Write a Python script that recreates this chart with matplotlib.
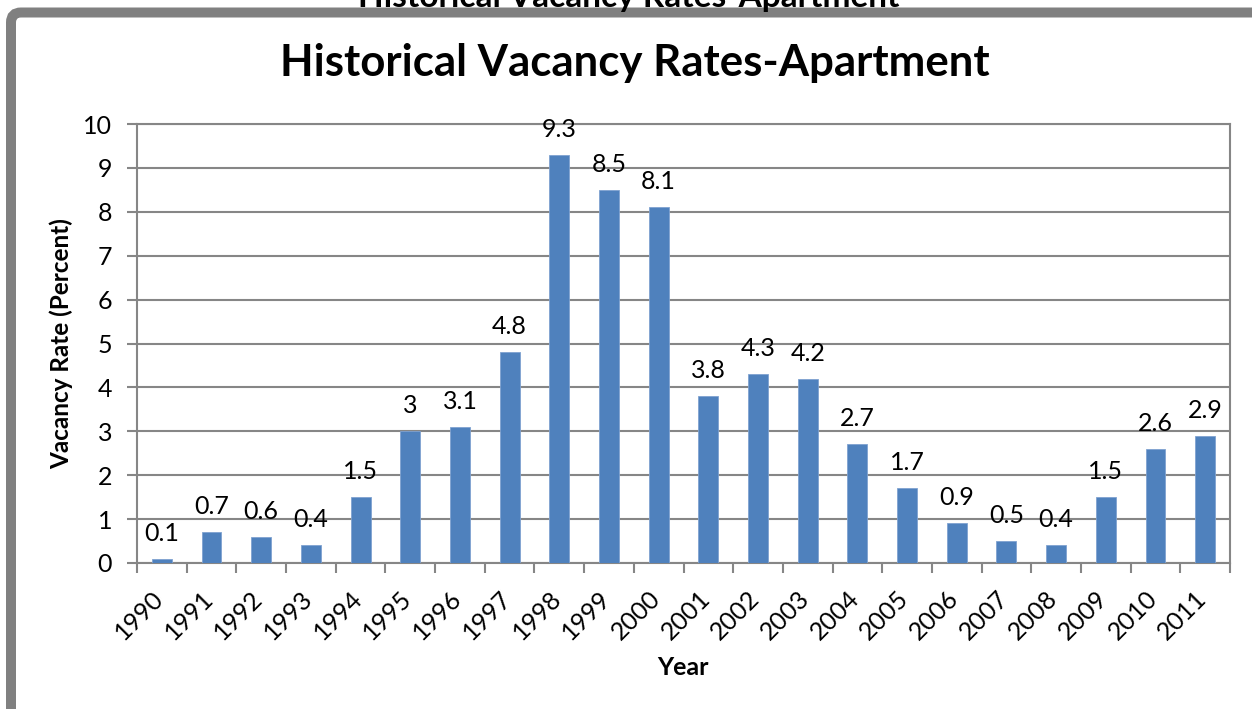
import numpy as np
import matplotlib
matplotlib.use("Agg")
import matplotlib.pyplot as plt
import matplotlib.transforms as mtransforms
from matplotlib.patches import FancyBboxPatch

plt.rcParams['font.family'] = ['Lato', 'DejaVu Sans']

# data
years = ['1990', '1991', '1992', '1993', '1994', '1995', '1996', '1997', '1998', '1999', '2000',
         '2001', '2002', '2003', '2004', '2005', '2006', '2007', '2008', '2009', '2010', '2011']
vacancy = [0.1, 0.7, 0.6, 0.4, 1.5, 3, 3.1, 4.8, 9.3, 8.5, 8.1,
           3.8, 4.3, 4.2, 2.7, 1.7, 0.9, 0.5, 0.4, 1.5, 2.6, 2.9]
y_ticks = [0, 1, 2, 3, 4, 5, 6, 7, 8, 9, 10]

BAR_COLOR = '#4F81BD'
GRID_COLOR = '#868686'
W, H = 1252, 709

fig = plt.figure(figsize=(W / 100, H / 100), dpi=100)

# gray outer frame of the embedded chart (cut at right and bottom)
frame = FancyBboxPatch((11 / 100, -0.5), (W + 100) / 100, (H - 12.5) / 100 + 0.5,
                       boxstyle="round,pad=0,rounding_size=0.1",
                       transform=fig.dpi_scale_trans, facecolor='white',
                       edgecolor='#808080', linewidth=7.2, zorder=0)
fig.add_artist(frame)

# cut-off title of the page above the chart
fig.text(629 / W, 1 - 7 / H, 'Historical Vacancy Rates-Apartment', ha='center', va='baseline',
         fontsize=24, fontweight='bold')

ax = fig.add_axes([137 / W, 146 / H, (1230 - 137) / W, (563 - 124) / H])
x = np.arange(len(years))
bars = ax.bar(x, vacancy, width=0.4, color=BAR_COLOR, edgecolor='#7FA2D0', linewidth=0.6, zorder=3)

for xi, v in zip(x, vacancy):
    lbl = '%g' % v
    ax.annotate(lbl, (xi, v), xytext=(0, 13), textcoords='offset points',
                ha='center', va='baseline', fontsize=18, zorder=4)

ax.set_xlim(-0.5, len(years) - 0.5)
ax.set_ylim(0, 10)
ax.set_yticks(y_ticks)
ax.set_yticklabels([str(t) for t in y_ticks], fontsize=18)
ax.yaxis.grid(True, color=GRID_COLOR, linewidth=1.5, zorder=1)
ax.set_axisbelow(True)

# category boundaries carry the tick marks, labels sit under the bars
ax.set_xticks(np.arange(len(years) + 1) - 0.5)
ax.set_xticklabels([])
ax.set_xticks(x, minor=True)
ax.set_xticklabels(years, minor=True, rotation=45, ha='right', va='top', fontsize=18)
ax.tick_params(axis='x', which='minor', length=0, pad=17)
ax.tick_params(axis='x', which='major', length=7, width=1.5, color=GRID_COLOR)
ax.tick_params(axis='y', length=7, width=1.5, color=GRID_COLOR, pad=11)
offset = mtransforms.ScaledTranslation(6 / 100, 0, fig.dpi_scale_trans)
for t in ax.xaxis.get_minorticklabels():
    t.set_transform(t.get_transform() + offset)

for s in ax.spines.values():
    s.set_color(GRID_COLOR)
    s.set_linewidth(1.5)

ax.set_ylabel('Vacancy Rate (Percent)', fontsize=17.5, fontweight='bold')
ax.set_xlabel('Year', fontsize=18, fontweight='bold')
ax.yaxis.set_label_coords(-(137 - 73) / (1230 - 137), 0.5)
ax.xaxis.set_label_coords((683 - 137) / (1230 - 137), -(656 - 563) / (563 - 124))

fig.text(635 / W, 1 - 63 / H, 'Historical Vacancy Rates-Apartment', ha='center', va='center',
         fontsize=31.5, fontweight='bold')

fig.savefig('out.png', dpi=100)
